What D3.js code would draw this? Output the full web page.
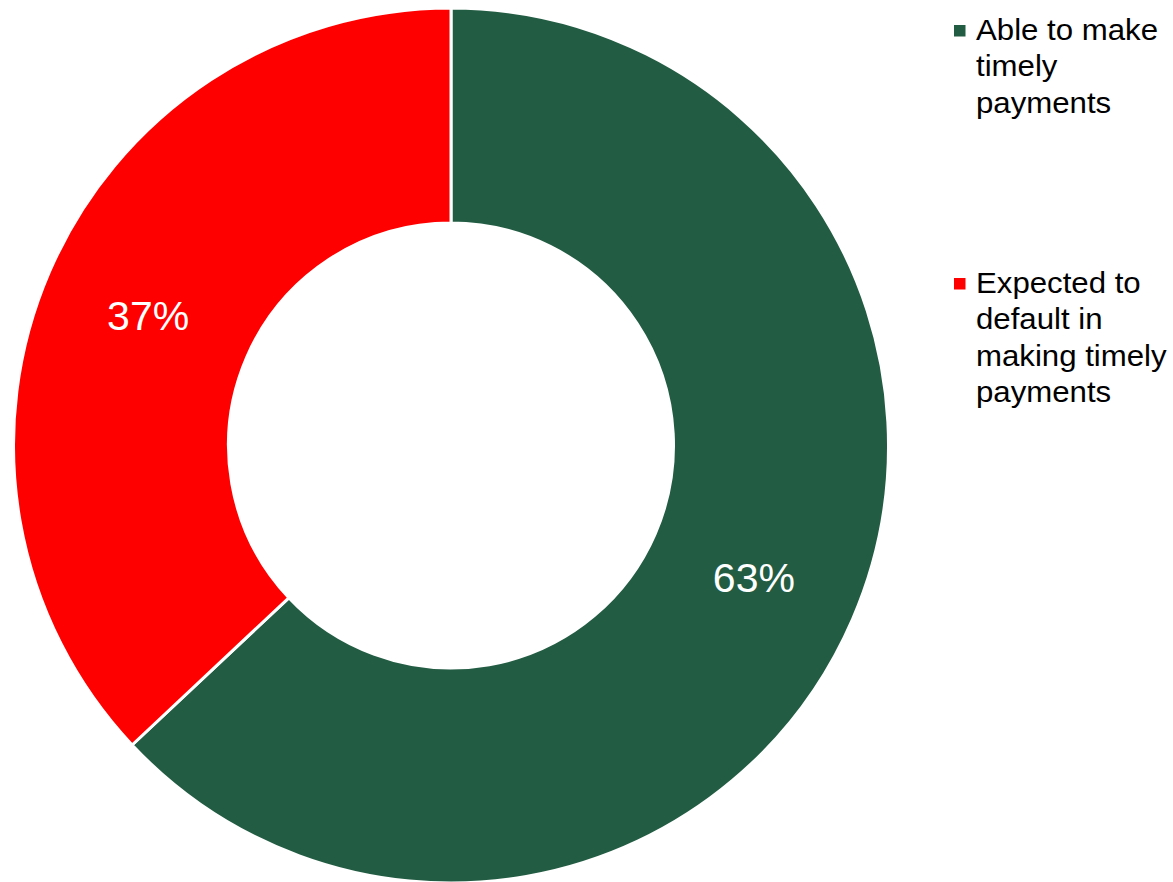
<!DOCTYPE html>
<html>
<head>
<meta charset="utf-8">
<script src="https://cdn.jsdelivr.net/npm/d3@7"></script>
<style>
  html, body { margin: 0; padding: 0; background: #fff; }
  svg { display: block; }
</style>
</head>
<body>
<svg id="chart" width="1173" height="882"></svg>
<script>
// Payment outlook shares (percent)
const categories = ["Able to make timely payments", "Expected to default in making timely payments"];
const values = [63, 37];
const legendLines = [["Able to make", "timely", "payments"], ["Expected to", "default in", "making timely", "payments"]];
const colors = ["#225C43", "#FF0000"];

const svg = d3.select("#chart");
const cx = 451, cy = 445.5;
const outerR = 437.5, innerR = 222.5;

const color = d3.scaleOrdinal().domain(categories).range(colors);
const pie = d3.pie().sort(null).value(d => d.value);
const data = categories.map((c, i) => ({ name: c, value: values[i] }));
const arcs = pie(data);
const arc = d3.arc().innerRadius(innerR).outerRadius(outerR);

const g = svg.append("g").attr("transform", `translate(${cx},${cy})`);

g.selectAll("path.slice")
  .data(arcs)
  .join("path")
  .attr("class", "slice")
  .attr("d", arc)
  .attr("fill", d => color(d.data.name))
  .attr("stroke", "#fff")
  .attr("stroke-width", 3)
  .attr("stroke-linejoin", "miter");

// Percentage labels at the centre of each ring segment
g.selectAll("text.pct")
  .data(arcs)
  .join("text")
  .attr("class", "pct")
  .attr("transform", d => `translate(${arc.centroid(d)})`)
  .attr("text-anchor", "middle")
  .attr("dy", "0.37em")
  .attr("fill", "#fff")
  .attr("font-family", "'Liberation Sans', Arial, sans-serif")
  .attr("font-size", 41)
  .text(d => d.data.value + "%");

// Legend
const legendTops = [40, 293];
const lineH = 36.5;
const legend = svg.append("g");
categories.forEach((c, i) => {
  const base = legendTops[i];
  legend.append("rect")
    .attr("x", 954)
    .attr("y", base - 15)
    .attr("width", 11.5)
    .attr("height", 11.5)
    .attr("fill", color(c));
  const t = legend.append("text")
    .attr("transform", `translate(976,${base}) scale(1.04,1)`)
    .attr("font-family", "'Liberation Sans', Arial, sans-serif")
    .attr("font-size", 30)
    .attr("fill", "#000");
  legendLines[i].forEach((line, j) => {
    t.append("tspan").attr("x", 0).attr("y", j * lineH).text(line);
  });
});
</script>
</body>
</html>
